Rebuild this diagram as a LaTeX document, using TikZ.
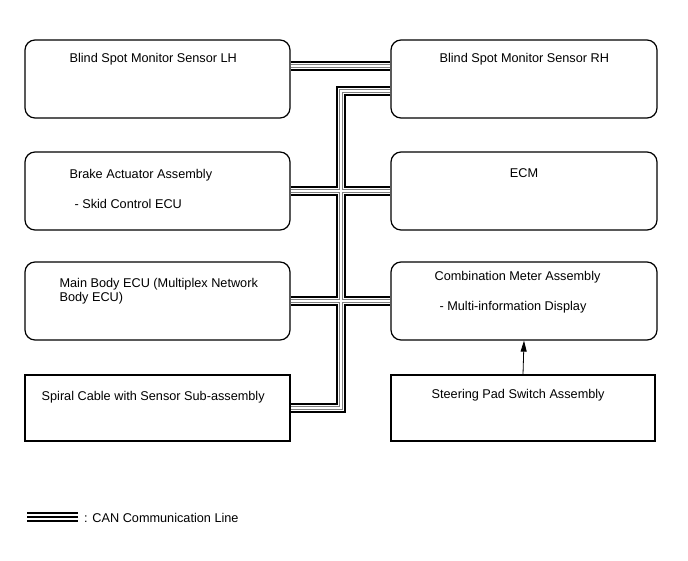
\documentclass[tikz,border=0pt]{standalone}
\usepackage{fontspec}
\setmainfont{Liberation Sans}
\usetikzlibrary{arrows.meta}

\tikzset{
    ecubox/.style={draw, line width=1.2pt, rounded corners=10pt, inner sep=0pt,
        minimum width=265pt, minimum height=78pt},
    swbox/.style={draw, line width=1.1pt, inner sep=0pt,
        minimum width=265pt, minimum height=66pt},
    lbl/.style={inner sep=0pt, anchor=west, font=\fontsize{12.7}{14}\selectfont, align=left}
}

\begin{document}
\begin{tikzpicture}[x=1pt, y=-1pt]
        \useasboundingbox (0,0) rectangle (688,560);

        \node[ecubox] (lh) at (157.5,79) {};
        \node[ecubox, minimum width=266pt] (rh) at (524,79) {};
        \node[ecubox] (br) at (157.5,191) {};
        \node[ecubox, minimum width=266pt] (ecm) at (524,191) {};
        \node[ecubox] (mb) at (157.5,301) {};
        \node[ecubox, minimum width=266pt] (cm) at (524,301) {};
        \node[swbox] (sp) at (157.5,408) {};
        \node[swbox, minimum width=264pt] (st) at (523,408) {};

        \node[lbl] (lhtxt) at ([xshift=45pt,yshift=-20pt]lh.north west) {Blind Spot Monitor Sensor LH};
        \node[lbl] (rhtxt) at ([xshift=49pt,yshift=-20pt]rh.north west) {Blind Spot Monitor Sensor RH};
        \node[lbl] (brtxt) at ([xshift=45pt,yshift=-24pt]br.north west) {Brake Actuator Assembly};
        \node[lbl] (brsub) at ([xshift=50pt,yshift=-53pt]br.north west) {- Skid Control ECU};
        \node[lbl, anchor=center] (ecmtxt) at ([yshift=-22pt]ecm.north) {ECM};
        \node[lbl] (mbtxt) at ([xshift=35pt,yshift=-30pt]mb.north west) {Main Body ECU (Multiplex Network\\Body ECU)};
        \node[lbl] (cmtxt) at ([xshift=44pt,yshift=-16pt]cm.north west) {Combination Meter Assembly};
        \node[lbl] (cmsub) at ([xshift=49pt,yshift=-46pt]cm.north west) {- Multi-information Display};
        \node[lbl] (sptxt) at ([xshift=17pt,yshift=-23pt]sp.north west) {Spiral Cable with Sensor Sub-assembly};
        \node[lbl] (sttxt) at ([xshift=41pt,yshift=-21pt]st.north west) {Steering Pad Switch Assembly};

        \coordinate (trunk) at (341,91);

        % CAN bus
        \foreach \w/\c in {10.5/black, 6/white, 4/gray, 1.6/white} {
            \draw[line width=\w pt, \c] ([yshift=13pt]lh.east) -- ([yshift=13pt]rh.west);
            \draw[line width=\w pt, \c] ([yshift=-12pt]rh.west) -- (trunk) |- (sp.east);
            \draw[line width=\w pt, \c] (br.east) -- (ecm.west);
            \draw[line width=\w pt, \c] (mb.east) -- (cm.west);
        }

        \draw[line width=0.8pt, -{Triangle[length=11pt, width=6pt]}] (st.north) -- (cm.south);

        % legend
        \coordinate (la) at (27,517);
        \coordinate (lb) at (78,517);
        \foreach \w/\c in {9.5/black, 5.5/white, 2.2/black}
            \draw[line width=\w pt, \c] (la) -- (lb);
        \node[lbl] (leg) at (84,518) {: CAN Communication Line};
    \end{tikzpicture}
\end{document}
